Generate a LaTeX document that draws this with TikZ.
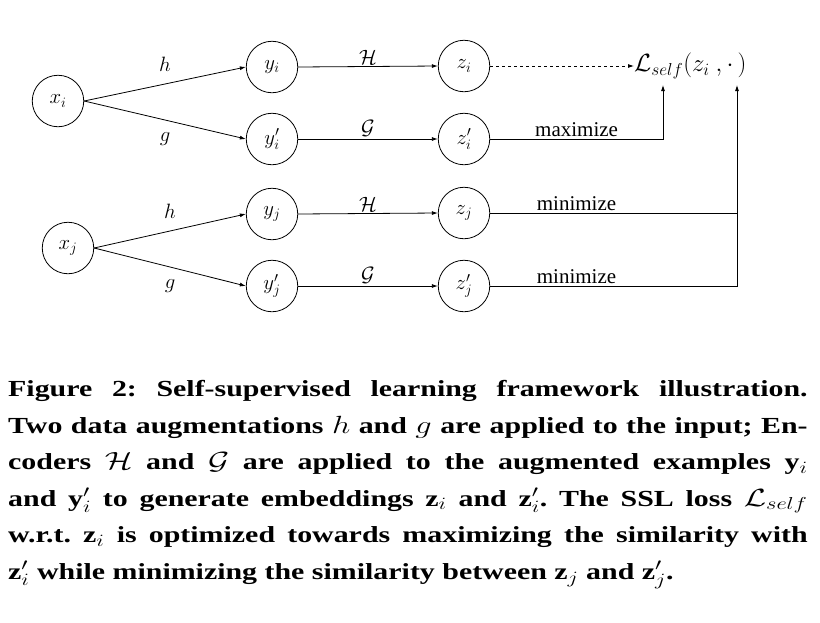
\documentclass[tikz,border=0pt]{standalone}
\usepackage{fontspec}
\setmainfont{Liberation Serif}
\usetikzlibrary{arrows.meta}
\begin{document}
\begin{tikzpicture}[x=1pt,y=-1pt,
  circ/.style={draw, circle, line width=0.8pt, minimum size=51.5pt, inner sep=0pt, font=\fontsize{22}{26}\selectfont},
  arr/.style={line width=0.8pt, -{Latex[length=6pt,width=4pt]}},
  lbl/.style={font=\fontsize{21}{25}\selectfont, inner sep=2pt},
  mlbl/.style={font=\fontsize{22}{26}\selectfont, inner sep=2pt},
  caption/.style={anchor=north west, inner sep=0pt,
    font=\fontsize{23}{36.6}\selectfont\bfseries}]
\useasboundingbox (0,0) rectangle (820,622);
% nodes
\node[circ] (xi)  at (58,101)  {$x_i$};
\node[circ] (yi)  at (272,67)  {$y_i$};
\node[circ] (ypi) at (272,139) {$y'_i$};
\node[circ] (zi)  at (464,66)  {$z_i$};
\node[circ] (zpi) at (464,139) {$z'_i$};
\node[circ] (xj)  at (68,248)  {$x_j$};
\node[circ] (yj)  at (272,214) {$y_j$};
\node[circ] (ypj) at (272,286) {$y'_j$};
\node[circ] (zj)  at (464,213) {$z_j$};
\node[circ] (zpj) at (464,286) {$z'_j$};
\node[font=\fontsize{24}{28}\selectfont, anchor=west, inner sep=0pt] (L) at (634,66) {$\mathcal{L}_{self}(z_i\ ,\cdot\,)$};
\coordinate (a1) at (663,85);
\coordinate (a2) at (737,85);
% connectors
\draw[arr] (xi.east) -- node[mlbl, pos=0.5, above=10pt] {$h$} (yi.west);
\draw[arr] (xi.east) -- node[mlbl, pos=0.5, below=10pt] {$g$} (ypi.west);
\draw[arr] (xj.east) -- node[mlbl, pos=0.5, above=10pt] {$h$} (yj.west);
\draw[arr] (xj.east) -- node[mlbl, pos=0.5, below=10pt] {$g$} (ypj.west);
\draw[arr] (yi.east) -- node[mlbl, above] {$\mathcal{H}$} (zi.west);
\draw[arr] (ypi.east) -- node[mlbl, above] {$\mathcal{G}$} (zpi.west);
\draw[arr] (yj.east) -- node[mlbl, above] {$\mathcal{H}$} (zj.west);
\draw[arr] (ypj.east) -- node[mlbl, above] {$\mathcal{G}$} (zpj.west);
\draw[arr, dashed] (zi.east) -- (L.west);
\draw[arr] (zpi.east) -- node[lbl, above] {maximize} (zpi.east -| a1) -- (a1);
\draw[line width=0.8pt] (zj.east) -- node[lbl, above, pos=0.35] {minimize} (zj.east -| a2);
\draw[arr] (zpj.east) -- node[lbl, above, pos=0.35] {minimize} (zpj.east -| a2) -- (a2);
% caption
\node[caption] (cap) at (8,380) {\scalebox{1.3}[1]{\parbox[t]{615pt}{\fontsize{23}{36.6}\selectfont\bfseries\frenchspacing Figure 2: Self-supervised learning framework illustration.\linebreak
Two data augmentations $h$ and $g$ are applied to the input; En-\linebreak{}coders $\mathcal{H}$ and $\mathcal{G}$ are applied to the augmented examples y$_i$\linebreak
and y$'_i$ to generate embeddings z$_i$ and z$'_i$. The SSL loss $\mathcal{L}_{self}$\linebreak
w.r.t. z$_i$ is optimized towards maximizing the similarity with\linebreak
z$'_i$ while minimizing the similarity between z$_j$ and z$'_j$.}}};
\end{tikzpicture}
\end{document}
